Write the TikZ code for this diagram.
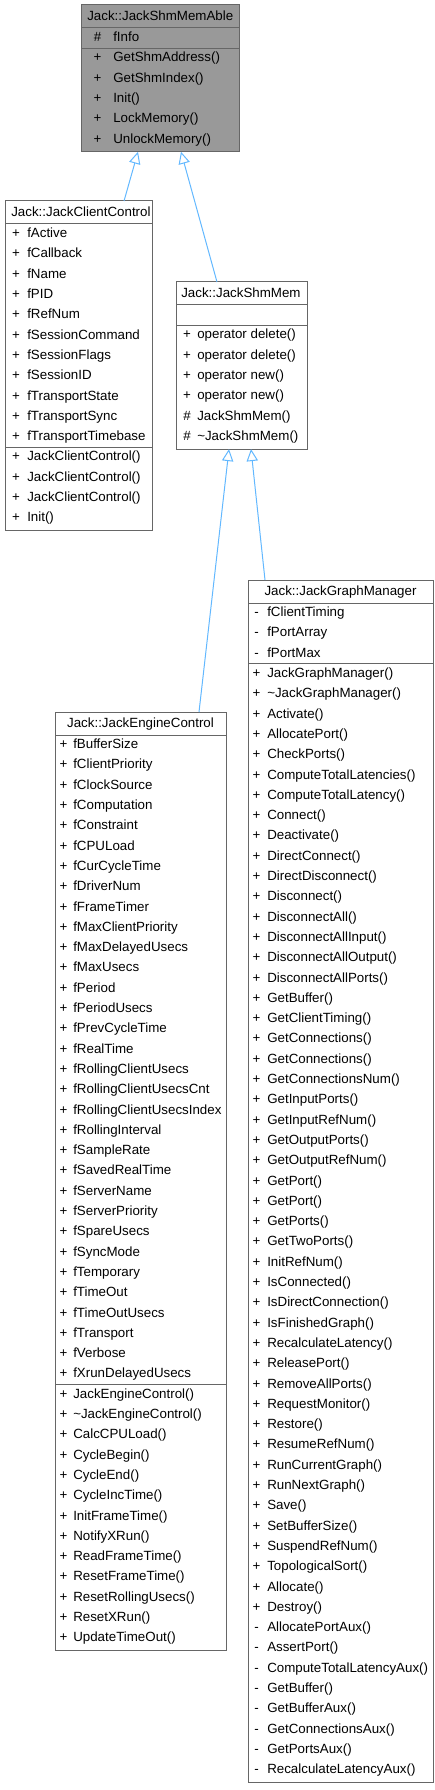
\documentclass[tikz,border=0pt]{standalone}
\usepackage{xcolor}
\usepackage{fontspec}
\setmainfont{Liberation Sans}
\usepackage{tikz}
\usetikzlibrary{calc, arrows.meta}
\definecolor{edgeblue}{HTML}{63B8FF}
\definecolor{frame}{HTML}{666666}
\definecolor{ablefill}{HTML}{999999}
% rows of one class box: box, first row, symbol offset, name offset, list
\newcommand{\memberrows}[5]{%
  \foreach \s/\n [count=\i from #2] in {#5}{
    \node[Sym] (#1-sym\i) at ($(#1.north west)+(#3,33.15+\i*20.3)$) {\s};
    \node[Member] (#1-\i) at ($(#1.north west)+(#4,33.15+\i*20.3)$) {\n};
  }}
\newcommand{\rulerow}[2]{%
  \draw[Rule] ($(#1.north west)+(0,#2)$) -- ($(#1.north east)+(0,#2)$);}

\begin{document}
\begin{tikzpicture}
  [
    x=0.75pt, y=-0.75pt,
    Box/.style={rectangle, draw=frame, fill=white, line width=0.75pt, inner sep=0pt, outer sep=0pt, anchor=north west},
    Able/.style={Box, fill=ablefill},
    Title/.style={inner sep=0pt, anchor=mid west, font=\fontsize{10}{12}\selectfont},
    Sym/.style={inner sep=0pt, anchor=mid, font=\fontsize{10}{12}\selectfont},
    Member/.style={inner sep=0pt, anchor=mid west, font=\fontsize{10}{12}\selectfont},
    Rule/.style={draw=frame, line width=0.75pt},
    Edge/.style={draw=edgeblue, line width=0.75pt, {Triangle[open, length=9pt, width=8.5pt]}-}
  ]
  \useasboundingbox (0,0) rectangle (435,1790);
  % Nodes
  \node[Able, minimum width=158*0.75pt, minimum height=146.8*0.75pt] (able) at (81,5) {};
  \node[Title] (able-title) at ($(able.north west)+(6,11.5)$) {Jack::JackShmMemAble};
  \rulerow{able}{23}
  \rulerow{able}{43.3}
  \memberrows{able}{0}{16.5}{32}{\#/fInfo}
  \memberrows{able}{1}{16.5}{32}{+/GetShmAddress(), +/GetShmIndex(), +/Init(), +/LockMemory(), +/UnlockMemory()}

  \node[Box, minimum width=147*0.75pt, minimum height=329.5*0.75pt] (client) at (5,201) {};
  \node[Title] (client-title) at ($(client.north west)+(6,11.5)$) {Jack::JackClientControl};
  \rulerow{client}{23}
  \rulerow{client}{246.3}
  \memberrows{client}{0}{11}{22}{+/fActive, +/fCallback, +/fName, +/fPID, +/fRefNum, +/fSessionCommand,
    +/fSessionFlags, +/fSessionID, +/fTransportState, +/fTransportSync, +/fTransportTimebase}
  \memberrows{client}{11}{11}{22}{+/JackClientControl(), +/JackClientControl(), +/JackClientControl(), +/Init()}

  \node[Box, minimum width=131*0.75pt, minimum height=167.1*0.75pt] (shm) at (176,282) {};
  \node[Title] (shm-title) at ($(shm.north west)+(5,11.5)$) {Jack::JackShmMem};
  \rulerow{shm}{23}
  \rulerow{shm}{43.3}
  \memberrows{shm}{1}{11}{21}{+/operator delete(), +/operator delete(), +/operator new(), +/operator new(),
    \#/JackShmMem(), \#/\textasciitilde JackShmMem()}

  \node[Box, minimum width=171*0.75pt, minimum height=938.5*0.75pt] (engine) at (55,712) {};
  \node[Title, anchor=mid] (engine-title) at ($(engine.north)+(0,11.5)$) {Jack::JackEngineControl};
  \rulerow{engine}{23}
  \rulerow{engine}{672.6}
  \memberrows{engine}{0}{8.5}{18}{+/fBufferSize, +/fClientPriority, +/fClockSource, +/fComputation, +/fConstraint,
    +/fCPULoad, +/fCurCycleTime, +/fDriverNum, +/fFrameTimer, +/fMaxClientPriority, +/fMaxDelayedUsecs,
    +/fMaxUsecs, +/fPeriod, +/fPeriodUsecs, +/fPrevCycleTime, +/fRealTime, +/fRollingClientUsecs,
    +/fRollingClientUsecsCnt, +/fRollingClientUsecsIndex, +/fRollingInterval, +/fSampleRate,
    +/fSavedRealTime, +/fServerName, +/fServerPriority, +/fSpareUsecs, +/fSyncMode, +/fTemporary,
    +/fTimeOut, +/fTimeOutUsecs, +/fTransport, +/fVerbose, +/fXrunDelayedUsecs}
  \memberrows{engine}{32}{8.5}{18}{+/JackEngineControl(), +/\textasciitilde JackEngineControl(), +/CalcCPULoad(),
    +/CycleBegin(), +/CycleEnd(), +/CycleIncTime(), +/InitFrameTime(), +/NotifyXRun(), +/ReadFrameTime(),
    +/ResetFrameTime(), +/ResetRollingUsecs(), +/ResetXRun(), +/UpdateTimeOut()}

  \node[Box, minimum width=185*0.75pt, minimum height=1202.4*0.75pt] (graph) at (248,580) {};
  \node[Title, anchor=mid] (graph-title) at ($(graph.north)+(0,11.5)$) {Jack::JackGraphManager};
  \rulerow{graph}{23}
  \rulerow{graph}{83.9}
  \memberrows{graph}{0}{8.5}{19}{-/fClientTiming, -/fPortArray, -/fPortMax}
  \memberrows{graph}{3}{8.5}{19}{+/JackGraphManager(), +/\textasciitilde JackGraphManager(), +/Activate(),
    +/AllocatePort(), +/CheckPorts(), +/ComputeTotalLatencies(), +/ComputeTotalLatency(), +/Connect(),
    +/Deactivate(), +/DirectConnect(), +/DirectDisconnect(), +/Disconnect(), +/DisconnectAll(),
    +/DisconnectAllInput(), +/DisconnectAllOutput(), +/DisconnectAllPorts(), +/GetBuffer(),
    +/GetClientTiming(), +/GetConnections(), +/GetConnections(), +/GetConnectionsNum(), +/GetInputPorts(),
    +/GetInputRefNum(), +/GetOutputPorts(), +/GetOutputRefNum(), +/GetPort(), +/GetPort(), +/GetPorts(),
    +/GetTwoPorts(), +/InitRefNum(), +/IsConnected(), +/IsDirectConnection(), +/IsFinishedGraph(),
    +/RecalculateLatency(), +/ReleasePort(), +/RemoveAllPorts(), +/RequestMonitor(), +/Restore(),
    +/ResumeRefNum(), +/RunCurrentGraph(), +/RunNextGraph(), +/Save(), +/SetBufferSize(), +/SuspendRefNum(),
    +/TopologicalSort(), +/Allocate(), +/Destroy(), -/AllocatePortAux(), -/AssertPort(),
    -/ComputeTotalLatencyAux(), -/GetBuffer(), -/GetBufferAux(), -/GetConnectionsAux(), -/GetPortsAux(),
    -/RecalculateLatencyAux()}
  % Lines
  \path[Edge] ($(able.south)+(-22,0)$) -- ($(client.north)+(45.5,0)$);
  \path[Edge] ($(able.south)+(21,0)$) -- ($(shm.north)+(-24.5,0)$);
  \path[Edge] ($(shm.south)+(-12.5,0)$) -- ($(engine.north)+(58.5,0)$);
  \path[Edge] ($(shm.south)+(9.5,0)$) -- ($(graph.north)+(-75.5,0)$);
\end{tikzpicture}
\end{document}
